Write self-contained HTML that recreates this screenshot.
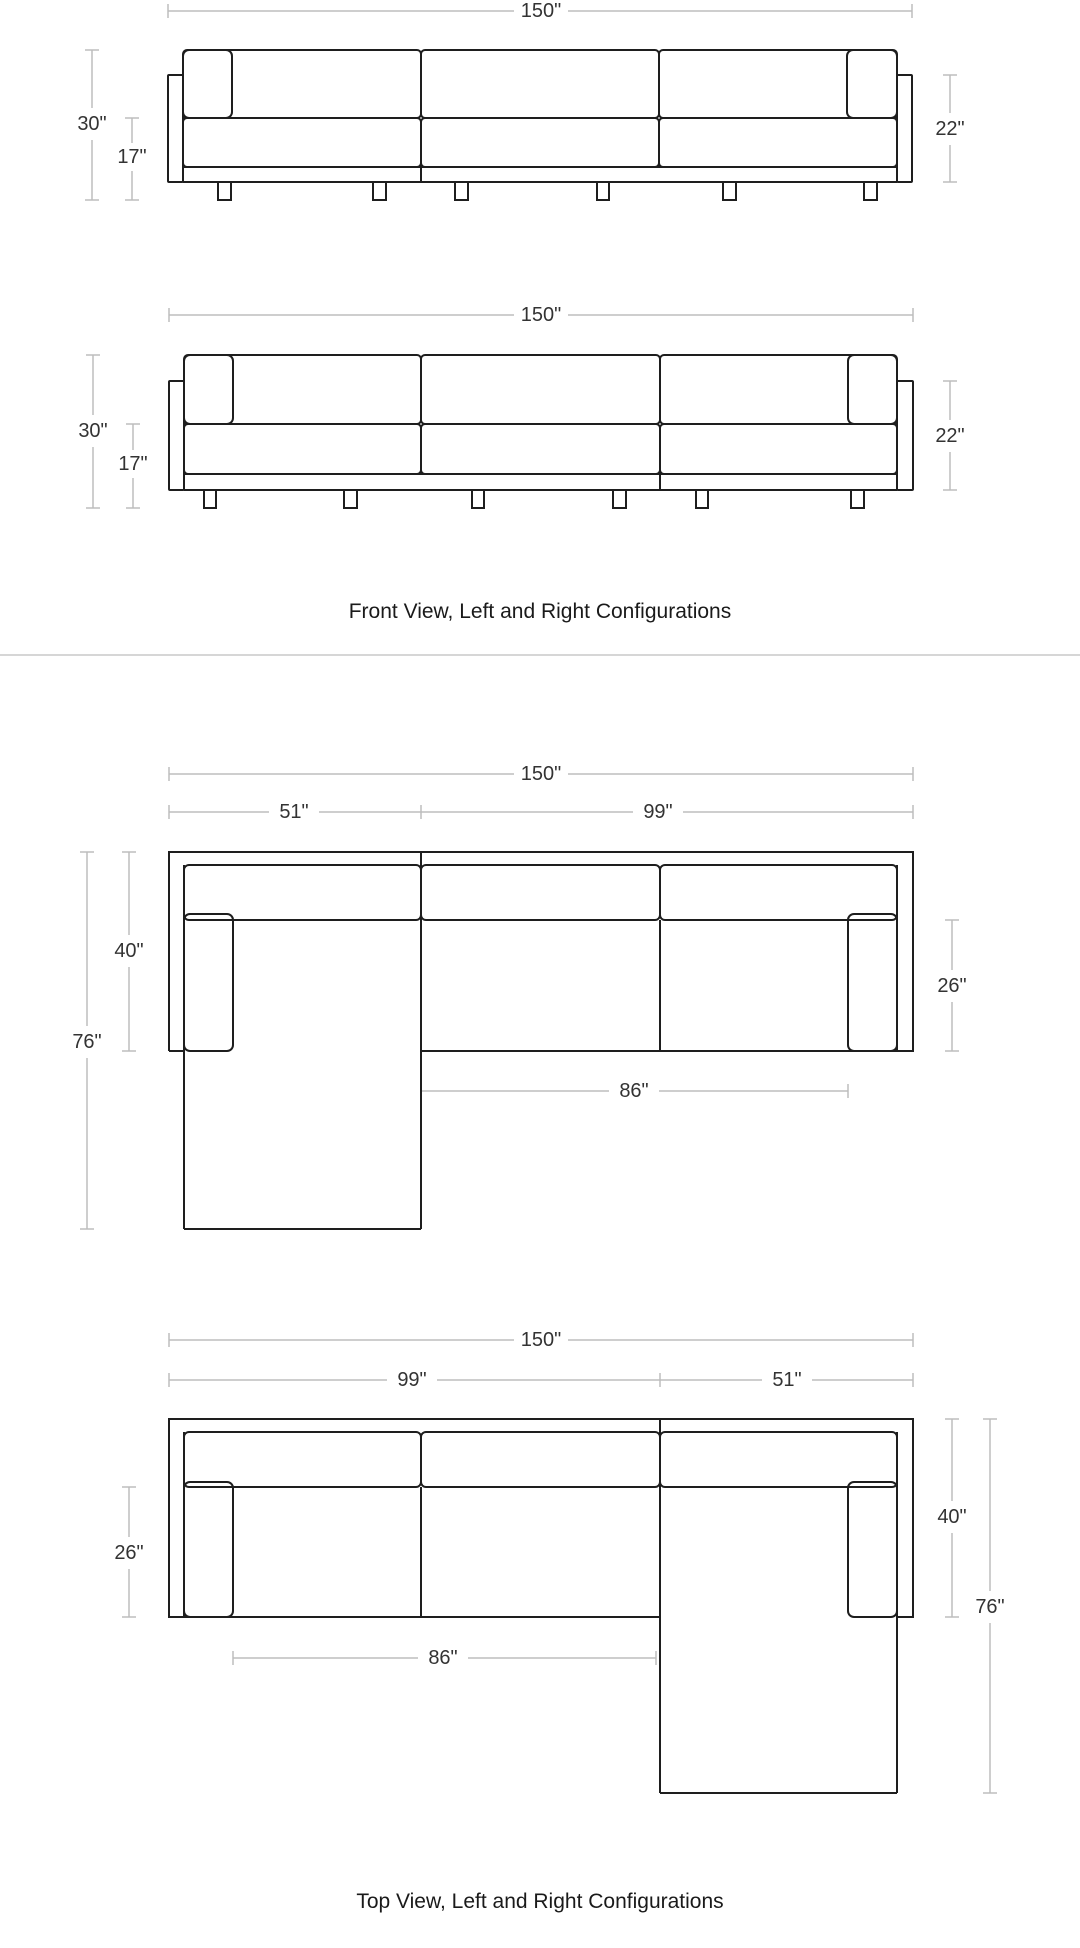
<!DOCTYPE html>
<html><head><meta charset="utf-8"><style>
html,body{margin:0;padding:0;background:#fff;}
svg{display:block;}
.d{stroke:#bdbdbd;stroke-width:1.5;fill:none;}
.s{stroke:#1e1e1e;stroke-width:2;fill:none;}
.t{font-family:"Liberation Sans",sans-serif;font-size:20px;fill:#333;text-anchor:middle;dominant-baseline:central;}
.c{font-family:"Liberation Sans",sans-serif;font-size:21px;fill:#1a1a1a;text-anchor:middle;}
.w{fill:#fff;}
</style></head><body>
<svg width="1080" height="1948" viewBox="0 0 1080 1948" xmlns="http://www.w3.org/2000/svg">
<!-- ===== Front view 1 ===== -->
<g class="d">
<line x1="168" y1="11" x2="912" y2="11"/><line x1="168" y1="4" x2="168" y2="18"/><line x1="912" y1="4" x2="912" y2="18"/>
<line x1="92" y1="50" x2="92" y2="200"/><line x1="85" y1="50" x2="99" y2="50"/><line x1="85" y1="200" x2="99" y2="200"/>
<line x1="132" y1="118" x2="132" y2="200"/><line x1="125" y1="118" x2="139" y2="118"/><line x1="125" y1="200" x2="139" y2="200"/>
<line x1="950" y1="75" x2="950" y2="182"/><line x1="943" y1="75" x2="957" y2="75"/><line x1="943" y1="182" x2="957" y2="182"/>
</g>
<rect class="w" x="514" y="0" width="54" height="22"/><text class="t" x="541" y="11">150"</text>
<rect class="w" x="72" y="108" width="40" height="32"/><text class="t" x="92" y="124">30"</text>
<rect class="w" x="112" y="143" width="40" height="28"/><text class="t" x="132" y="157">17"</text>
<rect class="w" x="930" y="113" width="40" height="32"/><text class="t" x="950" y="129">22"</text>
<g class="s">
<rect x="168" y="75" width="15" height="107" rx="1"/><rect x="897" y="75" width="15" height="107" rx="1"/>
<line x1="183" y1="182" x2="897" y2="182"/><line x1="183" y1="167" x2="897" y2="167"/>
<rect x="183" y="50" width="238" height="68" rx="4"/><rect x="421" y="50" width="238" height="68" rx="4"/><rect x="659" y="50" width="238" height="68" rx="4"/>
<rect x="183" y="118" width="238" height="49" rx="4"/><rect x="421" y="118" width="238" height="49" rx="4"/><rect x="659" y="118" width="238" height="49" rx="4"/>
<line x1="421" y1="167" x2="421" y2="182"/>
<rect x="183" y="50" width="49" height="68" rx="6"/><rect x="847" y="50" width="50" height="68" rx="6"/>
<rect x="218" y="182" width="13" height="18"/><rect x="373" y="182" width="13" height="18"/><rect x="455" y="182" width="13" height="18"/>
<rect x="597" y="182" width="12" height="18"/><rect x="723" y="182" width="13" height="18"/><rect x="864" y="182" width="13" height="18"/>
</g>
<!-- ===== Front view 2 ===== -->
<g class="d">
<line x1="169" y1="315" x2="913" y2="315"/><line x1="169" y1="308" x2="169" y2="322"/><line x1="913" y1="308" x2="913" y2="322"/>
<line x1="93" y1="355" x2="93" y2="508"/><line x1="86" y1="355" x2="100" y2="355"/><line x1="86" y1="508" x2="100" y2="508"/>
<line x1="133" y1="424" x2="133" y2="508"/><line x1="126" y1="424" x2="140" y2="424"/><line x1="126" y1="508" x2="140" y2="508"/>
<line x1="950" y1="381" x2="950" y2="490"/><line x1="943" y1="381" x2="957" y2="381"/><line x1="943" y1="490" x2="957" y2="490"/>
</g>
<rect class="w" x="514" y="304" width="54" height="22"/><text class="t" x="541" y="315">150"</text>
<rect class="w" x="73" y="415" width="40" height="32"/><text class="t" x="93" y="431">30"</text>
<rect class="w" x="113" y="450" width="40" height="28"/><text class="t" x="133" y="464">17"</text>
<rect class="w" x="930" y="420" width="40" height="32"/><text class="t" x="950" y="436">22"</text>
<g class="s">
<rect x="169" y="381" width="15" height="109" rx="1"/><rect x="897" y="381" width="16" height="109" rx="1"/>
<line x1="184" y1="490" x2="897" y2="490"/><line x1="184" y1="474" x2="897" y2="474"/>
<rect x="184" y="355" width="237" height="69" rx="4"/><rect x="421" y="355" width="239" height="69" rx="4"/><rect x="660" y="355" width="237" height="69" rx="4"/>
<rect x="184" y="424" width="237" height="50" rx="4"/><rect x="421" y="424" width="239" height="50" rx="4"/><rect x="660" y="424" width="237" height="50" rx="4"/>
<line x1="660" y1="474" x2="660" y2="490"/>
<rect x="184" y="355" width="49" height="69" rx="6"/><rect x="848" y="355" width="49" height="69" rx="6"/>
<rect x="204" y="490" width="12" height="18"/><rect x="344" y="490" width="13" height="18"/><rect x="472" y="490" width="12" height="18"/>
<rect x="613" y="490" width="13" height="18"/><rect x="696" y="490" width="12" height="18"/><rect x="851" y="490" width="13" height="18"/>
</g>
<text class="c" x="540" y="618">Front View, Left and Right Configurations</text>
<line x1="0" y1="655" x2="1080" y2="655" stroke="#c8c8c8" stroke-width="1.5"/>
<!-- ===== Top view L ===== -->
<g class="d">
<line x1="169" y1="774" x2="913" y2="774"/><line x1="169" y1="767" x2="169" y2="781"/><line x1="913" y1="767" x2="913" y2="781"/>
<line x1="169" y1="812" x2="913" y2="812"/><line x1="169" y1="805" x2="169" y2="819"/><line x1="421" y1="805" x2="421" y2="819"/><line x1="913" y1="805" x2="913" y2="819"/>
<line x1="87" y1="852" x2="87" y2="1229"/><line x1="80" y1="852" x2="94" y2="852"/><line x1="80" y1="1229" x2="94" y2="1229"/>
<line x1="129" y1="852" x2="129" y2="1051"/><line x1="122" y1="852" x2="136" y2="852"/><line x1="122" y1="1051" x2="136" y2="1051"/>
<line x1="952" y1="920" x2="952" y2="1051"/><line x1="945" y1="920" x2="959" y2="920"/><line x1="945" y1="1051" x2="959" y2="1051"/>
<line x1="421" y1="1091" x2="848" y2="1091"/><line x1="421" y1="1084" x2="421" y2="1098"/><line x1="848" y1="1084" x2="848" y2="1098"/>
</g>
<rect class="w" x="514" y="763" width="54" height="22"/><text class="t" x="541" y="774">150"</text>
<rect class="w" x="269" y="801" width="50" height="22"/><text class="t" x="294" y="812">51"</text>
<rect class="w" x="633" y="801" width="50" height="22"/><text class="t" x="658" y="812">99"</text>
<rect class="w" x="67" y="1026" width="40" height="32"/><text class="t" x="87" y="1042">76"</text>
<rect class="w" x="109" y="935" width="40" height="32"/><text class="t" x="129" y="951">40"</text>
<rect class="w" x="932" y="970" width="40" height="32"/><text class="t" x="952" y="986">26"</text>
<rect class="w" x="609" y="1080" width="50" height="22"/><text class="t" x="634" y="1091">86"</text>
<g class="s">
<path d="M169 1051 L169 852 L913 852 L913 1051 L421 1051"/>
<line x1="169" y1="1051" x2="184" y2="1051"/>
<line x1="184" y1="865" x2="184" y2="1229"/><line x1="897" y1="865" x2="897" y2="1051"/>
<line x1="184" y1="1229" x2="421" y2="1229"/>
<line x1="421" y1="852" x2="421" y2="1229"/><line x1="660" y1="920" x2="660" y2="1051"/>
<rect x="184" y="865" width="237" height="55" rx="5"/><rect x="421" y="865" width="239" height="55" rx="5"/><rect x="660" y="865" width="237" height="55" rx="5"/>
<rect x="184" y="914" width="49" height="137" rx="6"/><rect x="848" y="914" width="49" height="137" rx="6"/>
</g>
<!-- ===== Top view R ===== -->
<g class="d">
<line x1="169" y1="1340" x2="913" y2="1340"/><line x1="169" y1="1333" x2="169" y2="1347"/><line x1="913" y1="1333" x2="913" y2="1347"/>
<line x1="169" y1="1380" x2="913" y2="1380"/><line x1="169" y1="1373" x2="169" y2="1387"/><line x1="660" y1="1373" x2="660" y2="1387"/><line x1="913" y1="1373" x2="913" y2="1387"/>
<line x1="129" y1="1487" x2="129" y2="1617"/><line x1="122" y1="1487" x2="136" y2="1487"/><line x1="122" y1="1617" x2="136" y2="1617"/>
<line x1="952" y1="1419" x2="952" y2="1617"/><line x1="945" y1="1419" x2="959" y2="1419"/><line x1="945" y1="1617" x2="959" y2="1617"/>
<line x1="990" y1="1419" x2="990" y2="1793"/><line x1="983" y1="1419" x2="997" y2="1419"/><line x1="983" y1="1793" x2="997" y2="1793"/>
<line x1="233" y1="1658" x2="656" y2="1658"/><line x1="233" y1="1651" x2="233" y2="1665"/><line x1="656" y1="1651" x2="656" y2="1665"/>
</g>
<rect class="w" x="514" y="1329" width="54" height="22"/><text class="t" x="541" y="1340">150"</text>
<rect class="w" x="387" y="1369" width="50" height="22"/><text class="t" x="412" y="1380">99"</text>
<rect class="w" x="762" y="1369" width="50" height="22"/><text class="t" x="787" y="1380">51"</text>
<rect class="w" x="109" y="1537" width="40" height="32"/><text class="t" x="129" y="1553">26"</text>
<rect class="w" x="932" y="1501" width="40" height="32"/><text class="t" x="952" y="1517">40"</text>
<rect class="w" x="970" y="1591" width="40" height="32"/><text class="t" x="990" y="1607">76"</text>
<rect class="w" x="418" y="1647" width="50" height="22"/><text class="t" x="443" y="1658">86"</text>
<g class="s">
<path d="M660 1617 L169 1617 L169 1419 L913 1419 L913 1617 L897 1617"/>
<line x1="184" y1="1432" x2="184" y2="1617"/><line x1="897" y1="1432" x2="897" y2="1793"/>
<line x1="660" y1="1419" x2="660" y2="1793"/><line x1="660" y1="1793" x2="897" y2="1793"/>
<line x1="421" y1="1487" x2="421" y2="1617"/>
<rect x="184" y="1432" width="237" height="55" rx="5"/><rect x="421" y="1432" width="239" height="55" rx="5"/><rect x="660" y="1432" width="237" height="55" rx="5"/>
<rect x="184" y="1482" width="49" height="135" rx="6"/><rect x="848" y="1482" width="49" height="135" rx="6"/>
</g>
<text class="c" x="540" y="1908">Top View, Left and Right Configurations</text>
</svg>
</body></html>
